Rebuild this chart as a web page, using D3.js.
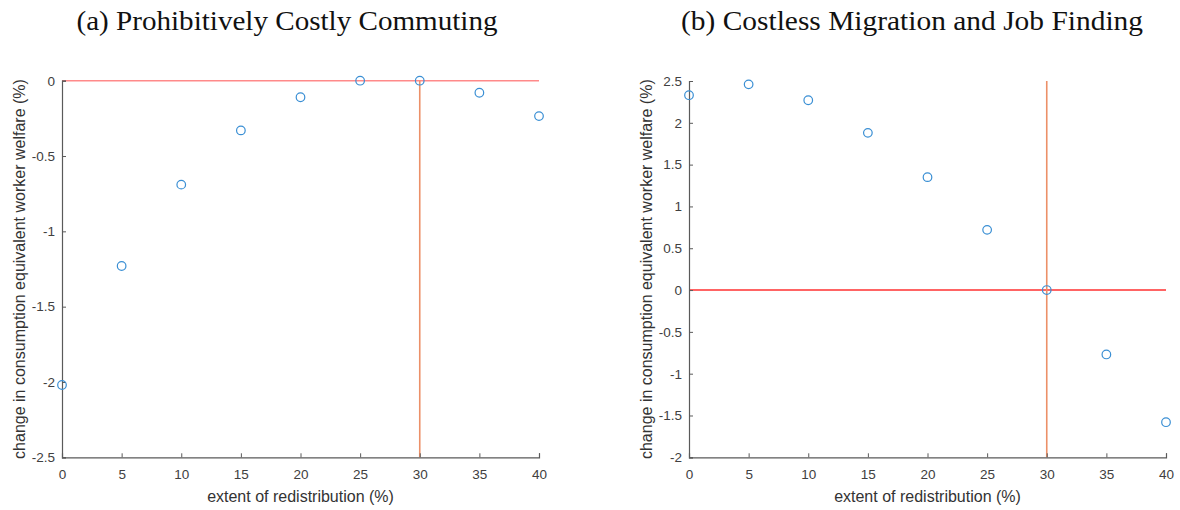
<!DOCTYPE html>
<html>
<head>
<meta charset="utf-8">
<script src="https://cdn.jsdelivr.net/npm/d3@7"></script>
<style>
  html, body { margin: 0; padding: 0; background: #fff; }
  svg { display: block; }
</style>
</head>
<body>
<svg id="chart" width="1180" height="510"></svg>
<script>
// Redistribution extents (%) shared by both panels
const redistribution = [0, 5, 10, 15, 20, 25, 30, 35, 40];

// Welfare change (%) for panel (a)
const welfareCommuting = [-2.02, -1.23, -0.69, -0.33, -0.11, 0.0, 0.0, -0.08, -0.235];
// Welfare change (%) for panel (b)
const welfareMigration = [2.33, 2.46, 2.27, 1.88, 1.35, 0.72, 0.0, -0.77, -1.58];

const xTicks = [0, 5, 10, 15, 20, 25, 30, 35, 40];
const yTicksA = [0, -0.5, -1, -1.5, -2, -2.5];
const yTicksB = [2.5, 2, 1.5, 1, 0.5, 0, -0.5, -1, -1.5, -2];

const titles = ["(a) Prohibitively Costly Commuting", "(b) Costless Migration and Job Finding"];
const xLabel = "extent of redistribution (%)";
const yLabel = "change in consumption equivalent worker welfare (%)";

const svg = d3.select("#chart");

const panels = [
  { title: titles[0], values: welfareCommuting, yDomain: [-2.5, 0], yTicks: yTicksA,
    left: 62, right: 539, top: 80.7, bottom: 457.3, titleX: 287, titleW: 421,
    hColor: "#ff8a8a", vFrom: 0, vTo: -2.5 },
  { title: titles[1], values: welfareMigration, yDomain: [-2, 2.5], yTicks: yTicksB,
    left: 689, right: 1166, top: 81, bottom: 457.3, titleX: 912, titleW: 462,
    hColor: "#ff3030", vFrom: 2.5, vTo: -2 }
];

const axisColor = "#5a5a5a";
const textColor = "#404040";
const sans = "'Liberation Sans', Arial, sans-serif";

panels.forEach(p => {
  const g = svg.append("g");
  const x = d3.scaleLinear().domain([0, 40]).range([p.left, p.right]);
  const y = d3.scaleLinear().domain(p.yDomain).range([p.bottom, p.top]);

  // panel title
  g.append("text")
    .attr("x", p.titleX).attr("y", 30)
    .attr("text-anchor", "middle")
    .attr("font-family", "'Liberation Serif', 'DejaVu Serif', serif")
    .attr("font-size", 26.5)
    .attr("textLength", p.titleW)
    .attr("lengthAdjust", "spacingAndGlyphs")
    .attr("fill", "#111")
    .text(p.title);

  // reference lines: zero welfare and 30% redistribution
  g.append("line")
    .attr("x1", x(0)).attr("x2", x(40))
    .attr("y1", y(0)).attr("y2", y(0))
    .attr("stroke", p.hColor).attr("stroke-width", 1.4);
  g.append("line")
    .attr("x1", x(30)).attr("x2", x(30))
    .attr("y1", y(p.vFrom)).attr("y2", y(p.vTo))
    .attr("stroke", "#ec9068").attr("stroke-width", 1.6);

  // x axis with inward ticks
  const xAxis = d3.axisBottom(x).tickValues(xTicks).tickSizeInner(-4).tickSizeOuter(-4)
    .tickPadding(12).tickFormat(d3.format("d"));
  const gx = g.append("g").attr("transform", `translate(0,${p.bottom})`).call(xAxis);
  // y axis with inward ticks
  const yAxis = d3.axisLeft(y).tickValues(p.yTicks).tickSizeInner(-4).tickSizeOuter(-4)
    .tickPadding(7).tickFormat(d => String(d));
  const gy = g.append("g").attr("transform", `translate(${p.left},0)`).call(yAxis);

  [gx, gy].forEach(a => {
    a.select(".domain").attr("stroke", axisColor).attr("stroke-width", 1.2);
    a.selectAll(".tick line").attr("stroke", axisColor).attr("stroke-width", 1);
    a.selectAll(".tick text")
      .attr("fill", textColor)
      .attr("font-family", sans)
      .attr("font-size", 13.5);
  });

  // axis labels
  g.append("text")
    .attr("x", (p.left + p.right) / 2).attr("y", 502)
    .attr("text-anchor", "middle")
    .attr("font-family", sans)
    .attr("font-size", 16)
    .attr("fill", "#333")
    .text(xLabel);
  g.append("text")
    .attr("transform", `translate(${p.left - 37},${(p.top + p.bottom) / 2}) rotate(-90)`)
    .attr("text-anchor", "middle")
    .attr("font-family", sans)
    .attr("font-size", 16)
    .attr("fill", "#333")
    .text(yLabel);

  // data markers
  g.selectAll("circle.pt")
    .data(redistribution.map((r, i) => ({ r, v: p.values[i] })))
    .join("circle")
    .attr("class", "pt")
    .attr("cx", d => x(d.r)).attr("cy", d => y(d.v))
    .attr("r", 4.3)
    .attr("fill", "none")
    .attr("stroke", "#3a8fd4")
    .attr("stroke-width", 1.2);
});
</script>
</body>
</html>
